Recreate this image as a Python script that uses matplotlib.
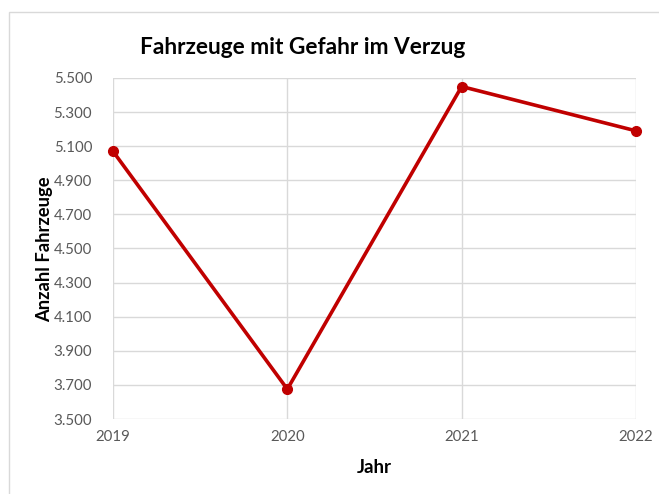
import matplotlib
matplotlib.use("Agg")
import matplotlib.pyplot as plt
from matplotlib.ticker import FuncFormatter
from matplotlib.patches import Rectangle

# -- data
jahre = [2019, 2020, 2021, 2022]
fahrzeuge = [5070, 3675, 5450, 5190]
y_ticks = list(range(3500, 5501, 200))

plt.rcParams["font.family"] = ["Lato", "DejaVu Sans"]

W, H = 659, 494
fig = plt.figure(figsize=(W / 100, H / 100), dpi=100)

# -- chart area frame (left/top edges visible)
fig.patches.append(Rectangle((9 / W, -0.01), 1.02 - 9 / W, 1.01 - 12.5 / H,
                             transform=fig.transFigure, fill=False,
                             edgecolor="#d9d9d9", lw=1.0))

ax = fig.add_axes([113 / W, 1 - 419 / H, (636 - 113) / W, (419 - 78) / H])

grid_c = "#d9d9d9"
ax.set_xlim(jahre[0], jahre[-1])
ax.set_ylim(y_ticks[0], y_ticks[-1])
ax.set_xticks(jahre)
ax.set_yticks(y_ticks)
ax.yaxis.set_major_formatter(FuncFormatter(lambda v, p: "{:,.0f}".format(v).replace(",", ".")))
ax.grid(True, color=grid_c, lw=1.0)
ax.set_axisbelow(True)
for s in ax.spines.values():
    s.set_visible(False)
ax.tick_params(length=0, colors="#595959", labelsize=10.8)
ax.tick_params(axis="x", pad=8)
ax.tick_params(axis="y", pad=15)

ax.plot(jahre, fahrzeuge, color="#c00000", lw=2.6, marker="o", ms=7,
        clip_on=False, zorder=3)

fig.text(303 / W, 1 - 47 / H, "Fahrzeuge mit Gefahr im Verzug", ha="center",
         va="center", fontsize=16.3, fontweight="bold", color="black")
fig.text(45 / W, 1 - 249 / H, "Anzahl Fahrzeuge", ha="center", va="center",
         rotation=90, fontsize=13.2, fontweight="bold", color="black")
fig.text(374 / W, 1 - 467 / H, "Jahr", ha="center", va="center",
         fontsize=13.5, fontweight="bold", color="black")

fig.savefig("out.png", dpi=100)
